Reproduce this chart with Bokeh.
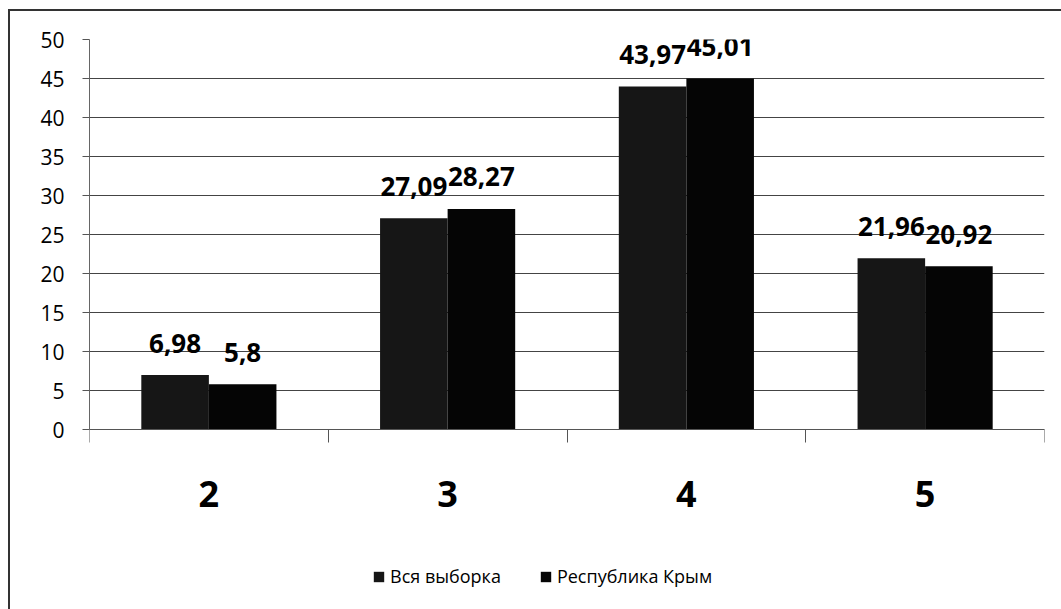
from bokeh.plotting import figure
from bokeh.models import (Range1d, LinearAxis, FixedTicker, Legend, LegendItem,
                          ColumnDataSource, Grid)
from bokeh.transform import dodge
from bokeh.core.properties import value
from bokeh.embed import file_html
from bokeh.resources import INLINE

categories = ["2", "3", "4", "5"]
series_names = ["Вся выборка", "Республика Крым"]
all_sample = [6.98, 27.09, 43.97, 21.96]
crimea = [5.8, 28.27, 45.01, 20.92]
y_ticks = [0, 5, 10, 15, 20, 25, 30, 35, 40, 45, 50]

FONT = "Open Sans"

W, H = 1061, 609
TOP, LEFT, RIGHT, BOTTOM = 39, 89, 17, 5
ZERO_PX = 429  # pixel row of value 0
Y_MAX = 50
y_min = -Y_MAX * ((H - BOTTOM) - ZERO_PX) / (ZERO_PX - TOP)


def fmt(v):
    return f"{v:g}".replace(".", ",")


xpos = [i + 0.5 for i in range(len(categories))]
source = ColumnDataSource(dict(
    x=xpos, a=all_sample, b=crimea,
    la=[fmt(v) for v in all_sample], lb=[fmt(v) for v in crimea],
))

p = figure(width=W, height=H,
           x_range=Range1d(0, len(categories)), y_range=Range1d(y_min, Y_MAX),
           x_axis_type=None, y_axis_type=None,
           output_backend="svg", toolbar_location=None,
           min_border_left=LEFT, min_border_right=RIGHT,
           min_border_top=TOP, min_border_bottom=BOTTOM)
p.outline_line_color = None
p.background_fill_alpha = 0
p.border_fill_alpha = 0
p.styles = {"box-shadow": "inset 8px 9px 0 0 white, inset 10px 11px 0 0 #333"}

# y grid
p.add_layout(Grid(dimension=1, ticker=FixedTicker(ticks=y_ticks),
                  grid_line_color="#444444", grid_line_width=1))

# axes
xaxis = LinearAxis(
    ticker=FixedTicker(ticks=xpos, minor_ticks=list(range(len(categories) + 1))),
    major_label_overrides={x: c for x, c in zip(xpos, categories)},
    fixed_location=0,
    major_tick_out=0, major_tick_in=0,
    minor_tick_out=13, minor_tick_in=0,
    minor_tick_line_color="#555", axis_line_color="#555",
    major_label_text_font=FONT, major_label_text_font_size="36px",
    major_label_text_font_style="bold", major_label_text_color="black",
    major_label_standoff=38,
)
p.add_layout(xaxis, "below")

yaxis = LinearAxis(
    ticker=FixedTicker(ticks=y_ticks), bounds=(0, Y_MAX),
    major_tick_out=7, major_tick_in=0, minor_tick_out=0, minor_tick_in=0,
    major_tick_line_color="#555", axis_line_color="#666",
    major_label_text_font=FONT, major_label_text_font_size="21px",
    major_label_text_color="black", major_label_standoff=18,
)
p.add_layout(yaxis, "left")

bw = 0.283
r1 = p.vbar(x=dodge("x", -bw / 2), top="a", width=bw, source=source,
            fill_color="#161616", line_color=None)
r2 = p.vbar(x=dodge("x", bw / 2), top="b", width=bw, source=source,
            fill_color="#050505", line_color=None)

for col, lab, off in (("a", "la", -bw / 2), ("b", "lb", bw / 2)):
    p.text(x=dodge("x", off), y=col, text=lab, source=source,
           text_align="center", text_baseline="alphabetic", y_offset=-32,
           text_font=value(FONT), text_font_size="26px",
           text_font_style="bold", text_color="black")

legend = Legend(
    items=[LegendItem(label=series_names[0], renderers=[r1]),
           LegendItem(label=series_names[1], renderers=[r2])],
    orientation="horizontal", location=(283, 16),
    padding=0, margin=0, spacing=38,
    glyph_width=13, glyph_height=13, label_standoff=5,
    label_text_font=FONT, label_text_font_size="18px",
    label_text_color="black",
    border_line_color=None, background_fill_alpha=0,
)
p.add_layout(legend)

open("out.html", "w").write(file_html(p, INLINE))
